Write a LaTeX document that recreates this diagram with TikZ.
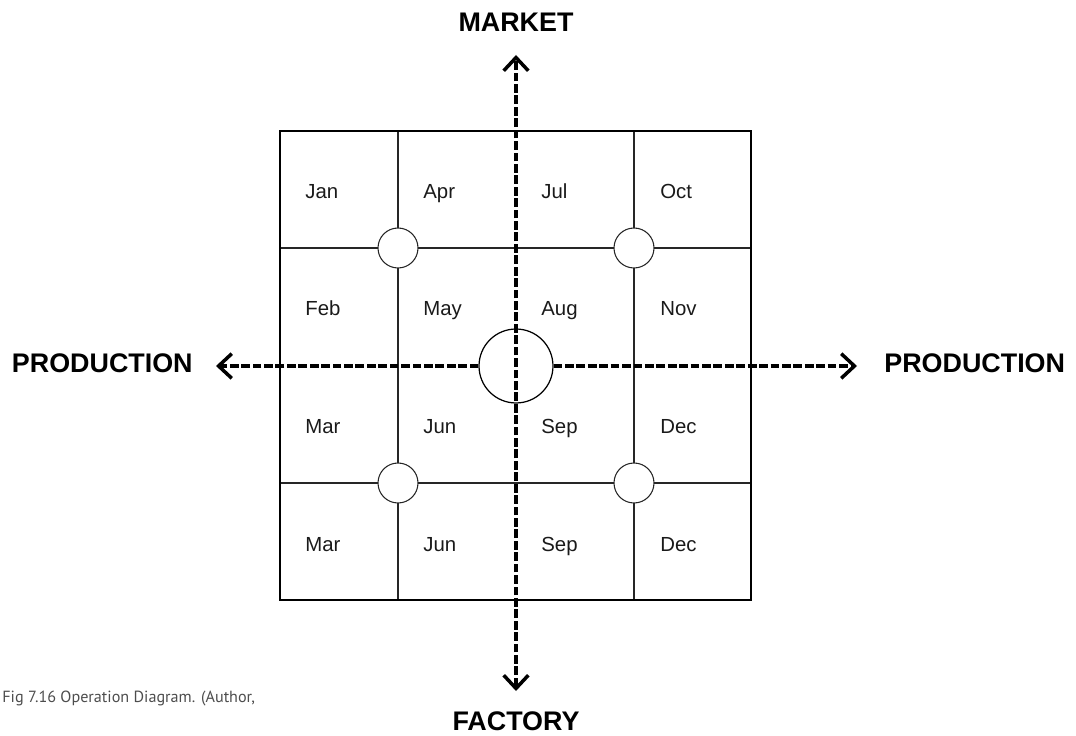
\documentclass[tikz,border=0pt]{standalone}
\usepackage{xcolor}
\usepackage{fontspec}
\setmainfont{Liberation Sans}
\newfontfamily\captionfont{PT Sans}
\usetikzlibrary{arrows.meta}
\definecolor{gridLine}{HTML}{262626}
\definecolor{monthText}{HTML}{1A1A1A}
\definecolor{captionGray}{HTML}{4D4D4D}

\begin{document}
\begin{tikzpicture}[
        x=0.02cm, y=-0.02cm,
        monthLabel/.style={anchor=base west, inner sep=0pt, text=monthText, font=\fontsize{11.6}{13}\selectfont},
        axisLabel/.style={inner sep=0pt, font=\fontsize{15.3}{18}\selectfont\bfseries},
        hubSmall/.style={circle, draw=gridLine, line width=0.6pt, fill=white, minimum size=0.8cm, inner sep=0pt},
        hubBig/.style={circle, draw=black, line width=0.7pt, fill=white, minimum size=1.48cm, inner sep=0pt},
        barbTip/.tip={Straight Barb[length=7.5pt, width=14pt]},
        flowAxis/.style={line width=2pt, dash pattern=on 5pt off 1.5pt, -barbTip},
        flowAxisBoth/.style={line width=2pt, dash pattern=on 5pt off 1.5pt, barbTip-barbTip}
    ]
        \useasboundingbox (0, 0) rectangle (1076, 736);

        % Thin grid lines
        \draw[gridLine, line width=0.6pt] (398, 131) -- (398, 600);
        \draw[gridLine, line width=0.6pt] (634, 131) -- (634, 600);
        \draw[gridLine, line width=0.6pt] (280, 248) -- (751, 248);
        \draw[gridLine, line width=0.6pt] (280, 483) -- (751, 483);

        % Outer frame
        \draw[black, line width=1.7pt] (280, 131) rectangle (751, 600);

        % Months
        \node[monthLabel, at={(305, 199)}] (jan) {Jan};
        \node[monthLabel, at={(305, 316)}] (feb) {Feb};
        \node[monthLabel, at={(305, 434)}] (mar1) {Mar};
        \node[monthLabel, at={(305, 552)}] (mar2) {Mar};

        \node[monthLabel, at={(423, 199)}] (apr) {Apr};
        \node[monthLabel, at={(423, 316)}] (may) {May};
        \node[monthLabel, at={(423, 434)}] (jun1) {Jun};
        \node[monthLabel, at={(423, 552)}] (jun2) {Jun};

        \node[monthLabel, at={(541, 199)}] (jul) {Jul};
        \node[monthLabel, at={(541, 316)}] (aug) {Aug};
        \node[monthLabel, at={(541, 434)}] (sep1) {Sep};
        \node[monthLabel, at={(541, 552)}] (sep2) {Sep};

        \node[monthLabel, at={(660, 199)}] (oct) {Oct};
        \node[monthLabel, at={(660, 316)}] (nov) {Nov};
        \node[monthLabel, at={(660, 434)}] (dec1) {Dec};
        \node[monthLabel, at={(660, 552)}] (dec2) {Dec};

        % Junction circles
        \node[hubSmall, at={(398, 248)}] (hubNW) {};
        \node[hubSmall, at={(634, 248)}] (hubNE) {};
        \node[hubSmall, at={(398, 483)}] (hubSW) {};
        \node[hubSmall, at={(634, 483)}] (hubSE) {};
        \node[hubBig, at={(516, 366)}] (hub) {};

        % Axis labels
        \node[axisLabel, anchor=base, at={(516, 32)}] (market) {MARKET};
        \node[axisLabel, anchor=base, at={(516, 730)}] (factory) {FACTORY};
        \node[axisLabel, anchor=base east, at={(193, 373)}] (prodWest) {PRODUCTION};
        \node[axisLabel, anchor=base west, at={(884, 373)}] (prodEast) {PRODUCTION};

        % Arrow tips
        \coordinate (tipN) at (516, 55);
        \coordinate (tipS) at (516, 691);
        \coordinate (tipW) at (216, 366);
        \coordinate (tipE) at (857, 366);

        % Dashed axes
        \draw[flowAxisBoth] (tipS) -- (tipN);
        \draw[flowAxis] (hub.west) -- (tipW);
        \draw[flowAxis] (hub.east) -- (tipE);

        % Caption
        \node[anchor=base west, inner sep=0pt, text=captionGray, font=\captionfont\fontsize{9.2}{11}\selectfont, at={(2, 703)}] (caption) {Fig 7.16 Operation Diagram. (Author,};
    \end{tikzpicture}
\end{document}
